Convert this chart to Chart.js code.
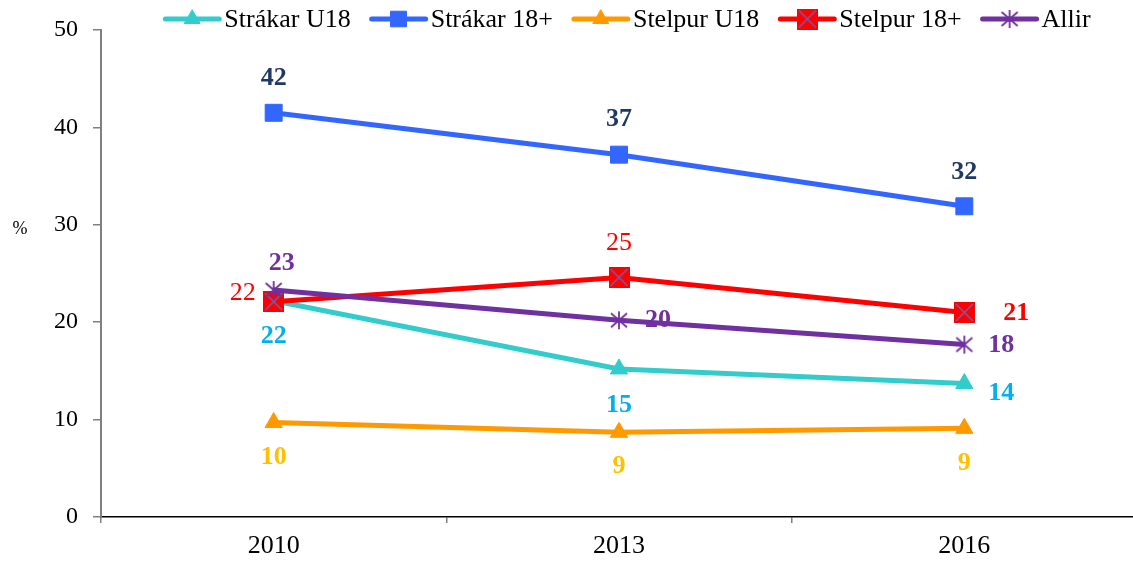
<!DOCTYPE html>
<html>
<head>
<meta charset="utf-8">
<script src="https://cdn.jsdelivr.net/npm/chart.js@4"></script>
<style>
    body { margin: 0; overflow: hidden; background: #fff; }
    #wrap { width: 1138px; height: 563px; position: relative; }
</style>
</head>
<body>
<div id="wrap"><canvas id="chart_canva"></canvas></div>
<script>
// ----- data -----
const years = ['2010', '2013', '2016'];
const strakar_u18 = [22.2, 15.2, 13.7];
const strakar_18 = [41.5, 37.2, 31.9];
const stelpur_u18 = [9.7, 8.7, 9.1];
const stelpur_18 = [22.1, 24.6, 21.0];
const allir = [23.3, 20.2, 17.7];
const series_names = ['Strákar U18', 'Strákar 18+', 'Stelpur U18', 'Stelpur 18+', 'Allir'];
const y_ticks = [0, 10, 20, 30, 40, 50];

const FONT = '"Liberation Serif", "DejaVu Serif", serif';

// ----- custom markers -----
function squareX() {
    const c = document.createElement('canvas');
    c.width = 21; c.height = 21;
    const g = c.getContext('2d');
    g.fillStyle = '#ff0000';
    g.fillRect(0, 0, 21, 21);
    g.strokeStyle = '#7060b0';
    g.lineWidth = 1.5;
    g.beginPath();
    g.moveTo(2, 2); g.lineTo(19, 19);
    g.moveTo(19, 2); g.lineTo(2, 19);
    g.stroke();
    return c;
}
function asterisk() {
    const c = document.createElement('canvas');
    c.width = 20; c.height = 20;
    const g = c.getContext('2d');
    g.strokeStyle = '#7030a0';
    g.lineWidth = 1.8;
    g.beginPath();
    g.moveTo(10, 1); g.lineTo(10, 19);
    g.moveTo(2, 3); g.lineTo(18, 17);
    g.moveTo(18, 3); g.lineTo(2, 17);
    g.stroke();
    return c;
}

// label placement per point (dx, dy from the point), colours and weight
const label_styles = [
    { color: '#00b0f0', bold: [true, true, true], off: [[0, 36], [0, 36], [37, 10]] },
    { color: '#1f3864', bold: [true, true, true], off: [[0, -35], [0, -35], [0, -34]] },
    { color: '#ffc000', bold: [true, true, true], off: [[0, 35], [0, 34], [0, 35]] },
    { color: '#ff0000', bold: [false, false, true], off: [[-31, -9], [0, -34], [52, 1]] },
    { color: '#7030a0', bold: [true, true, true], off: [[8, -27], [39, 0], [37, 1]] }
];

const valueLabels = {
    id: 'valueLabels',
    afterDatasetsDraw(chart) {
        const ctx = chart.ctx;
        ctx.save();
        ctx.textAlign = 'center';
        ctx.textBaseline = 'middle';
        chart.data.datasets.forEach((ds, i) => {
            const meta = chart.getDatasetMeta(i);
            const st = label_styles[i];
            meta.data.forEach((pt, j) => {
                ctx.font = (st.bold[j] ? 'bold ' : '') + '26px ' + FONT;
                ctx.fillStyle = st.color;
                ctx.fillText(String(Math.round(ds.data[j])), pt.x + st.off[j][0], pt.y + st.off[j][1]);
            });
        });
        ctx.restore();
    }
};

const topLegend = {
    id: 'topLegend',
    afterDraw(chart) {
        const ctx = chart.ctx;
        const lineW = 58, gap = 3, itemGap = 19, y = 19;
        ctx.save();
        ctx.font = '26px ' + FONT;
        const widths = chart.data.datasets.map(ds => ctx.measureText(ds.label).width);
        let total = 0;
        widths.forEach(w => total += lineW + gap + w + itemGap);
        total -= itemGap;
        let x = 627 - total / 2;
        chart.data.datasets.forEach((ds, i) => {
            ctx.strokeStyle = ds.borderColor;
            ctx.lineWidth = 5;
            ctx.lineCap = 'round';
            ctx.beginPath();
            ctx.moveTo(x + 2, y); ctx.lineTo(x + lineW - 2, y);
            ctx.stroke();
            ctx.fillStyle = ds.pointBackgroundColor;
            ctx.strokeStyle = ds.pointBorderColor;
            ctx.lineWidth = 1;
            Chart.helpers.drawPoint(ctx, {
                pointStyle: ds.pointStyle, radius: ds.pointRadius - 1, rotation: 0, borderWidth: 1
            }, x + lineW / 2, y);
            ctx.fillStyle = '#000';
            ctx.textAlign = 'left';
            ctx.textBaseline = 'middle';
            ctx.fillText(ds.label, x + lineW + gap, y + 1);
            x += lineW + gap + widths[i] + itemGap;
        });
        // y unit
        ctx.font = '18px ' + FONT;
        ctx.textAlign = 'center';
        ctx.fillText('%', 20, 229);
        ctx.restore();
    }
};

function line(label, data, color, style, radius, order) {
    return {
        label: label,
        data: data,
        borderColor: color,
        backgroundColor: color,
        pointBackgroundColor: color,
        pointBorderColor: color,
        borderWidth: 5,
        pointStyle: style,
        pointRadius: radius,
        pointHoverRadius: radius,
        pointBorderWidth: 1,
        order: order
    };
}

const data_chart = {
    labels: years,
    datasets: [
        line(series_names[0], strakar_u18, '#33cccc', 'triangle', 10, 5),
        line(series_names[1], strakar_18, '#3366ff', 'rect', 12, 4),
        line(series_names[2], stelpur_u18, '#ff9900', 'triangle', 10, 3),
        line(series_names[3], stelpur_18, '#ff0000', squareX(), 10, 2),
        line(series_names[4], allir, '#7030a0', asterisk(), 10, 1)
    ]
};

const config_chart = {
    type: 'line',
    data: data_chart,
    options: {
        responsive: true,
        maintainAspectRatio: false,
        animation: false,
        layout: { autoPadding: false, padding: { top: 30, right: 1, left: 0, bottom: 0 } },
        plugins: {
            legend: { display: false },
            tooltip: { enabled: false }
        },
        scales: {
            x: {
                offset: true,
                grid: { offset: true, drawOnChartArea: false, tickLength: 6, color: '#808080', lineWidth: 1.5 },
                border: { color: '#000', width: 1.5 },
                ticks: { color: '#000', font: { family: FONT, size: 26 }, padding: 8 },
                afterFit(scale) { scale.height = 46; }
            },
            y: {
                min: 0,
                max: 50,
                afterBuildTicks(scale) { scale.ticks = y_ticks.map(v => ({ value: v })); },
                grid: { drawOnChartArea: false, tickLength: 8, color: '#808080', lineWidth: 1.5 },
                border: { color: '#808080', width: 2 },
                ticks: { color: '#000', font: { family: FONT, size: 24 }, padding: 15 },
                afterFit(scale) { scale.width = 101; }
            }
        }
    },
    plugins: [valueLabels, topLegend]
};

var chart = new Chart(document.getElementById('chart_canva'), config_chart);
</script>
</body>
</html>
